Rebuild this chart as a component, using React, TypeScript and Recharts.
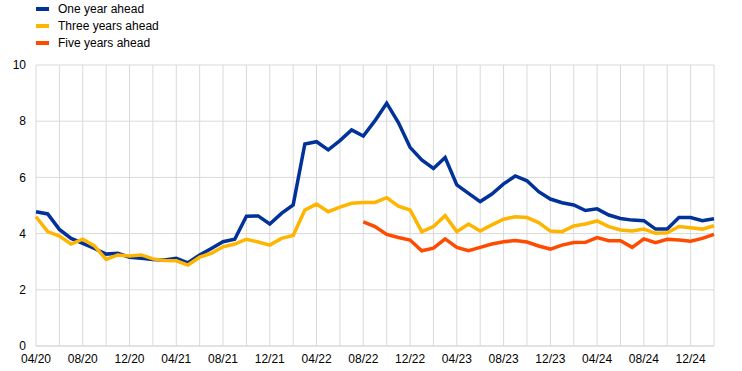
import React from 'react';
import { LineChart, Line, XAxis, YAxis, CartesianGrid } from 'recharts';

const MONTHS = [
  '04/20', '05/20', '06/20', '07/20', '08/20', '09/20', '10/20', '11/20', '12/20',
  '01/21', '02/21', '03/21', '04/21', '05/21', '06/21', '07/21', '08/21', '09/21', '10/21', '11/21', '12/21',
  '01/22', '02/22', '03/22', '04/22', '05/22', '06/22', '07/22', '08/22', '09/22', '10/22', '11/22', '12/22',
  '01/23', '02/23', '03/23', '04/23', '05/23', '06/23', '07/23', '08/23', '09/23', '10/23', '11/23', '12/23',
  '01/24', '02/24', '03/24', '04/24', '05/24', '06/24', '07/24', '08/24', '09/24', '10/24', '11/24', '12/24',
  '01/25', '02/25',
];

const ONE_YEAR = [
  4.78, 4.70, 4.15, 3.83, 3.65, 3.47, 3.27, 3.30, 3.16, 3.12,
  3.08, 3.06, 3.12, 2.96, 3.24, 3.47, 3.71, 3.80, 4.62, 4.63,
  4.34, 4.72, 5.02, 7.19, 7.27, 6.98, 7.31, 7.69, 7.47, 8.02,
  8.64, 7.95, 7.07, 6.62, 6.32, 6.71, 5.73, 5.43, 5.14, 5.41,
  5.77, 6.05, 5.88, 5.49, 5.23, 5.10, 5.02, 4.82, 4.88, 4.66,
  4.54, 4.48, 4.46, 4.16, 4.16, 4.57, 4.57, 4.46, 4.53,
];

const THREE_YEARS = [
  4.60, 4.07, 3.91, 3.63, 3.80, 3.56, 3.08, 3.24, 3.20, 3.24,
  3.10, 3.04, 3.03, 2.88, 3.16, 3.30, 3.53, 3.63, 3.80, 3.70,
  3.59, 3.83, 3.93, 4.84, 5.05, 4.78, 4.94, 5.08, 5.11, 5.11,
  5.28, 4.98, 4.84, 4.07, 4.25, 4.64, 4.07, 4.34, 4.09, 4.31,
  4.51, 4.60, 4.57, 4.39, 4.09, 4.07, 4.27, 4.34, 4.45, 4.25,
  4.13, 4.09, 4.16, 4.01, 4.03, 4.25, 4.21, 4.16, 4.28,
];

const FIVE_YEARS = [
  null, null, null, null, null, null, null, null, null, null,
  null, null, null, null, null, null, null, null, null, null,
  null, null, null, null, null, null, null, null, 4.42, 4.25,
  3.97, 3.86, 3.77, 3.39, 3.48, 3.81, 3.51, 3.39, 3.51, 3.63,
  3.71, 3.75, 3.70, 3.56, 3.45, 3.59, 3.68, 3.69, 3.86, 3.75,
  3.75, 3.51, 3.81, 3.68, 3.80, 3.77, 3.73, 3.83, 3.97,
];

const Y_TICKS = [0, 2, 4, 6, 8, 10];

const SERIES = [
  { key: 'one', name: 'One year ahead', color: '#003299' },
  { key: 'three', name: 'Three years ahead', color: '#FFB400' },
  { key: 'five', name: 'Five years ahead', color: '#FF4B00' },
];

const data = MONTHS.map((m, i) => ({
  month: m,
  one: ONE_YEAR[i],
  three: THREE_YEARS[i],
  five: FIVE_YEARS[i],
}));

// gridlines every 2 months, labels every 4
const xTicks = MONTHS.filter((_, i) => i % 2 === 0);
const xLabel = (v: string) => (MONTHS.indexOf(v) % 4 === 0 ? v : '');

const FONT = '"Liberation Sans", Arial, sans-serif';

export default function App() {
  return (
    <div style={{ position: 'fixed', top: 0, left: 0, width: 742, height: 371, background: '#fff', fontFamily: FONT }}>
      <div style={{ position: 'absolute', top: 0, left: 36, zIndex: 2 }}>
        {SERIES.map(s => (
          <div key={s.key} style={{ display: 'flex', alignItems: 'center', height: 17, fontSize: 12, color: '#000' }}>
            <span style={{ display: 'inline-block', width: 13, height: 4, background: s.color, marginRight: 9 }} />
            <span>{s.name}</span>
          </div>
        ))}
      </div>
      <LineChart width={742} height={371} data={data} margin={{ top: 65, right: 28, bottom: 0, left: 0 }}>
        <CartesianGrid stroke="#d9d9d9" strokeWidth={1} />
        <XAxis
          dataKey="month"
          ticks={xTicks}
          interval={0}
          tickFormatter={xLabel}
          tickLine={false}
          axisLine={{ stroke: '#d9d9d9' }}
          height={25}
          tick={{ fill: '#000', fontSize: 12, fontFamily: FONT }}
        />
        <YAxis
          domain={[0, 10]}
          ticks={Y_TICKS}
          width={36}
          axisLine={false}
          tickLine={false}
          tickMargin={4}
          tick={{ fill: '#000', fontSize: 12, fontFamily: FONT }}
        />
        {SERIES.map(s => (
          <Line
            key={s.key}
            type="linear"
            dataKey={s.key}
            name={s.name}
            stroke={s.color}
            strokeWidth={3.5}
            dot={false}
            activeDot={false}
            isAnimationActive={false}
          />
        ))}
      </LineChart>
    </div>
  );
}
